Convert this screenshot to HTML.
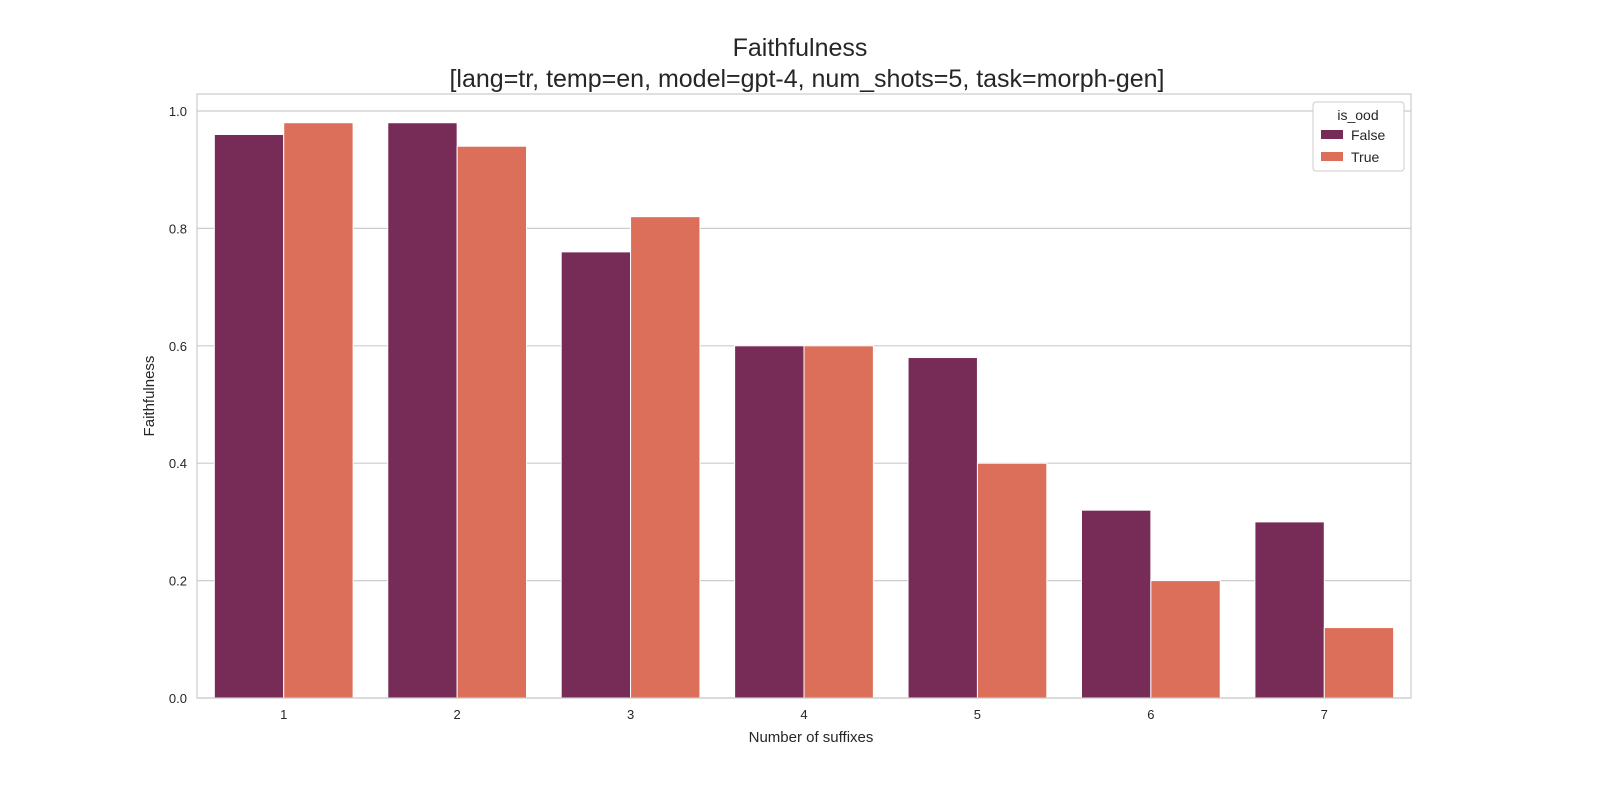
<!DOCTYPE html>
<html><head><meta charset="utf-8"><style>
html,body{margin:0;padding:0;background:#fff;}
svg{display:block;font-family:"Liberation Sans","DejaVu Sans",sans-serif;}
</style></head><body>
<svg id="chart" width="1600" height="800">
<rect x="0" y="0" width="1600" height="800" fill="#fff"/>
<text x="800" y="56" font-size="25" text-anchor="middle" fill="#262626">Faithfulness</text>
<text x="807" y="87" font-size="25" text-anchor="middle" fill="#262626">[lang=tr, temp=en, model=gpt-4, num_shots=5, task=morph-gen]</text>
<g id="grid"></g>
<g id="bars"></g>
<rect x="197" y="94" width="1214" height="604" fill="none" stroke="#cccccc" stroke-width="1.2"/>
<g id="ticks"></g>
<text x="811" y="742" font-size="15" text-anchor="middle" fill="#262626">Number of suffixes</text>
<text transform="translate(154,396) rotate(-90)" font-size="15" text-anchor="middle" fill="#262626">Faithfulness</text>
<g>
<rect x="1313" y="102" width="91" height="69" rx="3" fill="#fff" stroke="#cccccc"/>
<text x="1358" y="120" font-size="14" text-anchor="middle" fill="#262626">is_ood</text>
<rect x="1321" y="130" width="22" height="9" fill="#772b57"/>
<text x="1351" y="140" font-size="14" fill="#262626">False</text>
<rect x="1321" y="152" width="22" height="9" fill="#dc6f59"/>
<text x="1351" y="162" font-size="14" fill="#262626">True</text>
</g>
</svg>
<script>
const categories = ["1","2","3","4","5","6","7"];
const falseValues = [0.96,0.98,0.76,0.60,0.58,0.32,0.30];
const trueValues = [0.98,0.94,0.82,0.60,0.40,0.20,0.12];
const yTicks = [0.0,0.2,0.4,0.6,0.8,1.0];
const NS="http://www.w3.org/2000/svg";
const L=197,R=1411,B=698,PX=587;
const band=(R-L)/categories.length;
const y=v=>B-v*PX;
const xc=i=>L+band*(i+0.5);
const grid=document.getElementById('grid'),bars=document.getElementById('bars'),ticks=document.getElementById('ticks');
function mk(tag,attrs,parent){const e=document.createElementNS(NS,tag);for(const k in attrs)e.setAttribute(k,attrs[k]);parent.appendChild(e);return e;}
yTicks.forEach(t=>{
  const l=mk('line',{x1:L,x2:R,y1:y(t),y2:y(t),stroke:'#cccccc','stroke-width':1.2},grid);
  
  
  const tx=mk('text',{x:L-10,y:y(t)+5,'font-size':13,'text-anchor':'end',fill:'#262626'},ticks);
  tx.textContent=t.toFixed(1);
  
  
});
const bw=band*0.4;
categories.forEach((c,i)=>{
  const b1=mk('rect',{x:xc(i)-bw,y:y(falseValues[i]),width:bw,height:falseValues[i]*PX,fill:'#772b57',stroke:'#fff','stroke-width':1},bars);
  
  
  const b2=mk('rect',{x:xc(i),y:y(trueValues[i]),width:bw,height:trueValues[i]*PX,fill:'#dc6f59',stroke:'#fff','stroke-width':1},bars);
  
  
  const tx=mk('text',{x:xc(i),y:B+21,'font-size':13,'text-anchor':'middle',fill:'#262626'},ticks);
  tx.textContent=c;
  
  
});
</script>
</body></html>
